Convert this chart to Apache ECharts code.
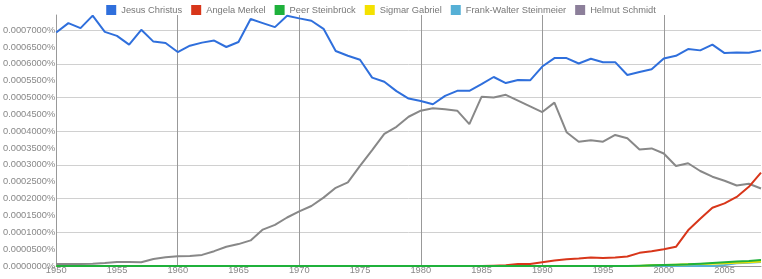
<!DOCTYPE html>
<html>
<head>
<meta charset="utf-8">
<script src="https://cdn.jsdelivr.net/npm/echarts@6/dist/echarts.min.js"></script>
<style>
  html, body { margin: 0; padding: 0; background: #fff; }
  #chart { width: 762px; height: 279px; }
</style>
</head>
<body>
<div id="chart"></div>
<script>
// Jahre 1950..2008
const years = [
  1950, 1951, 1952, 1953, 1954, 1955, 1956, 1957, 1958, 1959,
  1960, 1961, 1962, 1963, 1964, 1965, 1966, 1967, 1968, 1969,
  1970, 1971, 1972, 1973, 1974, 1975, 1976, 1977, 1978, 1979,
  1980, 1981, 1982, 1983, 1984, 1985, 1986, 1987, 1988, 1989,
  1990, 1991, 1992, 1993, 1994, 1995, 1996, 1997, 1998, 1999,
  2000, 2001, 2002, 2003, 2004, 2005, 2006, 2007, 2008,
];

// Werte in Prozent
const jesusChristus = [
  0.000693, 0.000721, 0.000706, 0.000743, 0.000695, 0.000683, 0.000657, 0.000701, 0.000666, 0.000662,
  0.000635, 0.000654, 0.000663, 0.000669, 0.000650, 0.000665, 0.000733, 0.000721, 0.000709, 0.000743,
  0.000735, 0.000728, 0.000704, 0.000638, 0.000624, 0.000612, 0.000559, 0.000547, 0.000519, 0.000497,
  0.000490, 0.000480, 0.000505, 0.000520, 0.000520, 0.000540, 0.000561, 0.000543, 0.000552, 0.000551,
  0.000592, 0.000617, 0.000617, 0.000601, 0.000615, 0.000605, 0.000605, 0.000567, 0.000576, 0.000584,
  0.000616, 0.000624, 0.000644, 0.000640, 0.000657, 0.000632, 0.000634, 0.000633, 0.000640,
];

const angelaMerkel = [
  0, 0, 0, 0, 0, 0, 0, 0, 0, 0,
  0, 0, 0, 0, 0, 0, 0, 0, 0, 0,
  0, 0, 0, 0, 0, 0, 0, 0, 0, 0,
  0, 0, 0, 0, 0, 0, 0.000001, 0.000002, 0.000006, 0.000006,
  0.000011, 0.000016, 0.000020, 0.000022, 0.000025, 0.000024, 0.000025, 0.000028, 0.000039, 0.000044,
  0.000050, 0.000057, 0.000106, 0.000140, 0.000173, 0.000186, 0.000205, 0.000235, 0.000277,
];

const peerSteinbrueck = [
  0, 0, 0, 0, 0, 0, 0, 0, 0, 0,
  0, 0, 0, 0, 0, 0, 0, 0, 0, 0,
  0, 0, 0, 0, 0, 0, 0, 0, 0, 0,
  0, 0, 0, 0, 0, 0, 0, 0, 0, 0,
  0, 0, 0, 0, 0, 0, 0, 0, 0.000001, 0.000002,
  0.000003, 0.000004, 0.000005, 0.000007, 0.000009, 0.000011, 0.000013, 0.000015, 0.000018,
];

const sigmarGabriel = [
  0, 0, 0, 0, 0, 0, 0, 0, 0, 0,
  0, 0, 0, 0, 0, 0, 0, 0, 0, 0,
  0, 0, 0, 0, 0, 0, 0, 0, 0, 0,
  0, 0, 0, 0, 0, 0, 0, 0, 0, 0,
  0, 0, 0, 0, 0, 0, 0, 0, 0, 0.000002,
  0.000003, 0.000004, 0.000005, 0.000006, 0.000007, 0.000008, 0.000010, 0.000011, 0.000013,
];

const frankWalterSteinmeier = [
  0, 0, 0, 0, 0, 0, 0, 0, 0, 0,
  0, 0, 0, 0, 0, 0, 0, 0, 0, 0,
  0, 0, 0, 0, 0, 0, 0, 0, 0, 0,
  0, 0, 0, 0, 0, 0, 0, 0, 0, 0,
  0, 0, 0, 0, 0, 0, 0, 0, 0, 0,
  0, 0, 0, 0, 0, 0.000003, 0.000008, 0.000010, 0.000012,
];

const helmutSchmidt = [
  0.000006, 0.000006, 0.000006, 0.000007, 0.000009, 0.000012, 0.000012, 0.000011, 0.000021, 0.000026,
  0.000029, 0.000030, 0.000033, 0.000044, 0.000057, 0.000065, 0.000076, 0.000108, 0.000122, 0.000144,
  0.000162, 0.000178, 0.000203, 0.000232, 0.000248, 0.000297, 0.000344, 0.000392, 0.000413, 0.000443,
  0.000461, 0.000468, 0.000465, 0.000461, 0.000421, 0.000502, 0.000500, 0.000508, 0.000491, 0.000474,
  0.000457, 0.000485, 0.000397, 0.000369, 0.000373, 0.000369, 0.000389, 0.000379, 0.000346, 0.000349,
  0.000334, 0.000297, 0.000305, 0.000282, 0.000265, 0.000253, 0.000239, 0.000244, 0.000230,
];

const FONT = 'Liberation Sans, Arial, sans-serif';

const line = (name, data, color, z, lineColor) => ({
  name,
  type: 'line',
  data,
  z,
  symbol: 'none',
  smooth: false,
  itemStyle: { color },
  lineStyle: { color: lineColor || color, width: 2 },
  emphasis: { disabled: true },
});

const chart = echarts.init(document.getElementById('chart'));
chart.setOption({
  animation: false,
  textStyle: { fontFamily: FONT },
  legend: {
    top: 0,
    left: 'center',
    icon: 'rect',
    itemWidth: 10,
    itemHeight: 10,
    itemGap: 9,
    textStyle: { fontSize: 9.3, color: '#777', fontFamily: FONT },
  },
  grid: { left: 54, right: 1, top: 15, bottom: 13 },
  xAxis: {
    type: 'category',
    data: years,
    boundaryGap: false,
    axisLine: { lineStyle: { color: '#999', width: 1 } },
    axisTick: { show: false },
    axisLabel: { interval: 4, margin: 0, fontSize: 9.3, color: '#888', fontFamily: FONT },
    splitLine: { show: true, interval: 9, lineStyle: { color: '#999', width: 1 } },
  },
  yAxis: {
    type: 'value',
    min: 0,
    max: 0.000745,
    interval: 0.00005,
    axisLine: { show: true, lineStyle: { color: '#999', width: 1 } },
    axisTick: { show: false },
    axisLabel: {
      margin: 1,
      fontSize: 9.3,
      color: '#888',
      fontFamily: FONT,
      formatter: (v) => (Math.abs(Math.round(v / 0.00005) * 0.00005 - v) < 1e-10 ? v.toFixed(7) + '%' : ''),
    },
    // nur jede zweite Linie (0.0001er Schritte)
    splitLine: { show: true, lineStyle: { color: ['#d0d0d0', 'rgba(0,0,0,0)'], width: 1 } },
  },
  series: [
    line('Jesus Christus', jesusChristus, '#2f6fdc', 3),
    line('Angela Merkel', angelaMerkel, '#d8361a', 4),
    line('Peer Steinbrück', peerSteinbrueck, '#1fb13b', 8),
    line('Sigmar Gabriel', sigmarGabriel, '#f4e100', 7),
    line('Frank-Walter Steinmeier', frankWalterSteinmeier, '#56b0d6', 6),
    line('Helmut Schmidt', helmutSchmidt, '#8c7f9a', 2, '#888888'),
  ],
});
</script>
</body>
</html>
